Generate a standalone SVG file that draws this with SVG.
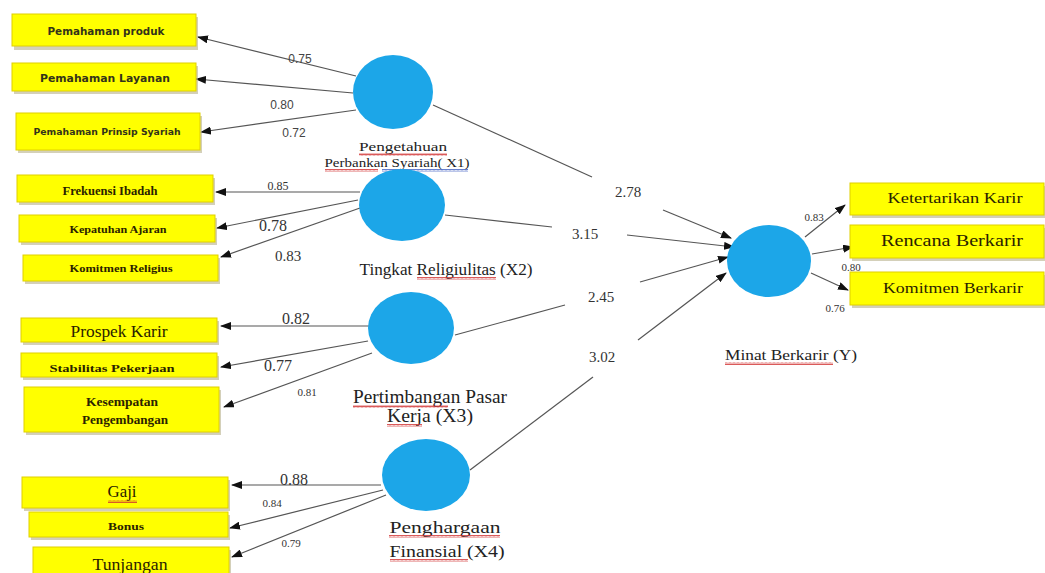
<svg xmlns="http://www.w3.org/2000/svg" width="1045" height="573" viewBox="0 0 1045 573">
<defs>
<style>
.box{fill:#ffff00;stroke:#e0d000;stroke-width:1}
.shadow{fill:#b8b08a;opacity:0.6}
.lv{fill:#1ca6e8}
.ln{stroke:#555;stroke-width:1.2;fill:none}
.arr{marker-end:url(#ah)}
.sans{font-family:"DejaVu Sans","Liberation Sans",sans-serif;fill:#33331a;text-anchor:middle;font-weight:bold}
.serif{font-family:"Liberation Serif","Times New Roman",serif;fill:#2a2200;text-anchor:middle}
.b{font-weight:bold}
.num{font-family:"Liberation Serif","Times New Roman",serif;fill:#333;text-anchor:middle}
.nums{font-family:"Liberation Sans",Arial,sans-serif;fill:#444;text-anchor:middle}
.lab{font-family:"Liberation Serif","Times New Roman",serif;fill:#222;text-anchor:middle}
.sq{fill:url(#squig)}
.sqb{fill:url(#squigb)}
</style>
<marker id="ah" markerWidth="11" markerHeight="8" refX="10" refY="4" orient="auto" markerUnits="userSpaceOnUse">
<path d="M0,0 L11,4 L0,8 z" fill="#111"/>
</marker>
<pattern id="squig" width="4" height="3" patternUnits="userSpaceOnUse">
<path d="M0,2.5 L1,0.5 L2,2.5 L3,0.5 L4,2.5" stroke="#d03030" stroke-width="0.8" fill="none"/>
</pattern>
<pattern id="squigb" width="4" height="3" patternUnits="userSpaceOnUse">
<path d="M0,2.5 L1,0.5 L2,2.5 L3,0.5 L4,2.5" stroke="#4060c0" stroke-width="0.8" fill="none"/>
</pattern>
</defs>
<rect width="1045" height="573" fill="#ffffff"/>

<g id="connectors">
<line class="ln arr" x1="356" y1="76" x2="198" y2="37"/>
<line class="ln arr" x1="353" y1="93" x2="196" y2="79"/>
<line class="ln arr" x1="356" y1="110" x2="201" y2="132"/>
<line class="ln arr" x1="360" y1="192" x2="216" y2="192"/>
<line class="ln arr" x1="358" y1="200" x2="217" y2="228"/>
<line class="ln arr" x1="360" y1="208" x2="221" y2="257"/>
<line class="ln arr" x1="369" y1="326" x2="221" y2="326"/>
<line class="ln arr" x1="368" y1="341" x2="221" y2="367"/>
<line class="ln arr" x1="372" y1="353" x2="224" y2="407"/>
<line class="ln arr" x1="381" y1="485" x2="232" y2="485"/>
<line class="ln arr" x1="383" y1="490" x2="230" y2="528"/>
<line class="ln arr" x1="386" y1="495" x2="232" y2="557"/>
<line class="ln" x1="433" y1="105" x2="592" y2="177"/>
<line class="ln arr" x1="663" y1="210" x2="731" y2="238"/>
<line class="ln" x1="445" y1="215" x2="552" y2="227"/>
<line class="ln arr" x1="627" y1="235" x2="734" y2="247"/>
<line class="ln" x1="455" y1="335" x2="565" y2="305"/>
<line class="ln arr" x1="640" y1="282" x2="728" y2="257"/>
<line class="ln" x1="470" y1="470" x2="593" y2="377"/>
<line class="ln arr" x1="638" y1="340" x2="726" y2="273"/>
<line class="ln arr" x1="805" y1="237" x2="845" y2="205"/>
<line class="ln arr" x1="812" y1="254" x2="853" y2="247"/>
<line class="ln arr" x1="811" y1="273" x2="848" y2="290"/>
<text class="nums" x="300" y="63" font-size="12">0.75</text>
<text class="nums" x="282" y="109" font-size="12">0.80</text>
<text class="nums" x="294" y="137" font-size="12">0.72</text>
<text class="num" x="278" y="190" font-size="12">0.85</text>
<text class="num" x="273" y="231" font-size="16">0.78</text>
<text class="num" x="288" y="261" font-size="15">0.83</text>
<text class="num" x="296" y="324" font-size="16">0.82</text>
<text class="num" x="278" y="371" font-size="16">0.77</text>
<text class="num" x="307" y="396" font-size="11">0.81</text>
<text class="num" x="294" y="485" font-size="16">0.88</text>
<text class="num" x="272" y="507" font-size="11">0.84</text>
<text class="num" x="291" y="547" font-size="11">0.79</text>
<text class="num" x="628" y="197" font-size="15">2.78</text>
<text class="num" x="585" y="239" font-size="15">3.15</text>
<text class="num" x="601" y="302" font-size="15">2.45</text>
<text class="num" x="602" y="362" font-size="15">3.02</text>
<text class="num" x="814" y="221" font-size="11">0.83</text>
<text class="num" x="851" y="271" font-size="11">0.80</text>
<text class="num" x="835" y="312" font-size="11">0.76</text>
</g>

<g id="X1">
<ellipse class="lv" cx="393" cy="92" rx="40" ry="37"/>
<text class="lab" x="403" y="151" font-size="12" textLength="88" lengthAdjust="spacingAndGlyphs">Pengetahuan</text>
<text class="lab" x="397" y="167" font-size="12.5" textLength="145" lengthAdjust="spacingAndGlyphs">Perbankan Syariah( X1)</text>
<rect class="sq" x="359" y="153" width="88" height="3"/>
<rect class="sq" x="325" y="169" width="53" height="3"/>
<rect class="sqb" x="382" y="169" width="86" height="3"/>
</g>
<g id="X2">
<ellipse class="lv" cx="402" cy="205" rx="43" ry="36"/>
<text class="lab" x="446" y="275" font-size="17" textLength="173" lengthAdjust="spacingAndGlyphs">Tingkat Religiulitas (X2)</text>
<rect class="sq" x="417" y="277" width="79" height="3"/>
</g>
<g id="X3">
<ellipse class="lv" cx="411" cy="328" rx="43" ry="36"/>
<text class="lab" x="430" y="403" font-size="18" textLength="154" lengthAdjust="spacingAndGlyphs">Pertimbangan Pasar</text>
<text class="lab" x="430" y="422" font-size="18" textLength="86" lengthAdjust="spacingAndGlyphs">Kerja (X3)</text>
<rect class="sq" x="353" y="405" width="95" height="3"/>
<rect class="sq" x="387" y="424" width="35" height="3"/>
</g>
<g id="X4">
<ellipse class="lv" cx="426" cy="475" rx="44" ry="36"/>
<text class="lab" x="445" y="533" font-size="17" textLength="111" lengthAdjust="spacingAndGlyphs">Penghargaan</text>
<text class="lab" x="447" y="557" font-size="17" textLength="115" lengthAdjust="spacingAndGlyphs">Finansial (X4)</text>
<rect class="sq" x="389" y="535" width="111" height="3"/>
<rect class="sq" x="390" y="559" width="78" height="3"/>
</g>
<g id="Y">
<ellipse class="lv" cx="769" cy="261" rx="42" ry="36"/>
<text class="lab" x="791" y="360" font-size="14.5" textLength="132" lengthAdjust="spacingAndGlyphs">Minat Berkarir (Y)</text>
<rect class="sq" x="725" y="362" width="108" height="3"/>
</g>

<g id="ind-produk">
<rect class="shadow" x="14" y="17" width="184" height="33"/>
<rect class="box" x="12" y="14" width="184" height="32"/>
<text class="sans" x="106" y="35" font-size="10" textLength="117" lengthAdjust="spacingAndGlyphs">Pemahaman  produk</text>
</g>
<g id="ind-layanan">
<rect class="shadow" x="14" y="66" width="184" height="28"/>
<rect class="box" x="12" y="63" width="184" height="28"/>
<text class="sans" x="105" y="82" font-size="10" textLength="130" lengthAdjust="spacingAndGlyphs">Pemahaman  Layanan</text>
</g>
<g id="ind-prinsip">
<rect class="shadow" x="18" y="116" width="184" height="37"/>
<rect class="box" x="16" y="113" width="184" height="37"/>
<text class="sans" x="107" y="135" font-size="9" textLength="147" lengthAdjust="spacingAndGlyphs">Pemahaman Prinsip Syariah</text>
</g>
<g id="ind-frekuensi">
<rect class="shadow" x="19" y="178" width="196" height="27"/>
<rect class="box" x="17" y="175" width="196" height="27"/>
<text class="serif b" x="110" y="195" font-size="12.5" textLength="95" lengthAdjust="spacingAndGlyphs">Frekuensi Ibadah</text>
</g>
<g id="ind-kepatuhan">
<rect class="shadow" x="21" y="218" width="196" height="27"/>
<rect class="box" x="19" y="215" width="196" height="27"/>
<text class="serif b" x="118" y="233" font-size="10" textLength="97" lengthAdjust="spacingAndGlyphs">Kepatuhan Ajaran</text>
</g>
<g id="ind-komitmen">
<rect class="shadow" x="25" y="258" width="195" height="26"/>
<rect class="box" x="23" y="255" width="195" height="26"/>
<text class="serif b" x="121" y="272" font-size="10" textLength="103" lengthAdjust="spacingAndGlyphs">Komitmen Religius</text>
</g>
<g id="ind-prospek">
<rect class="shadow" x="23" y="321" width="196" height="24"/>
<rect class="box" x="21" y="318" width="196" height="24"/>
<text class="serif" x="119" y="337" font-size="16" textLength="97" lengthAdjust="spacingAndGlyphs">Prospek Karir</text>
</g>
<g id="ind-stabilitas">
<rect class="shadow" x="23" y="356" width="196" height="24"/>
<rect class="box" x="21" y="353" width="196" height="24"/>
<text class="serif b" x="112" y="372" font-size="11" textLength="125" lengthAdjust="spacingAndGlyphs">Stabilitas Pekerjaan</text>
</g>
<g id="ind-kesempatan">
<rect class="shadow" x="26" y="390" width="195" height="45"/>
<rect class="box" x="24" y="387" width="195" height="45"/>
<text class="serif b" x="122" y="406" font-size="12" textLength="72" lengthAdjust="spacingAndGlyphs">Kesempatan</text>
<text class="serif b" x="125" y="424" font-size="12" textLength="86" lengthAdjust="spacingAndGlyphs">Pengembangan</text>
</g>
<g id="ind-gaji">
<rect class="shadow" x="24" y="480" width="206" height="31"/>
<rect class="box" x="22" y="477" width="206" height="31"/>
<text class="serif" x="122" y="497" font-size="17" textLength="29" lengthAdjust="spacingAndGlyphs">Gaji</text>
<rect class="sq" x="108" y="500" width="29" height="3"/>
</g>
<g id="ind-bonus">
<rect class="shadow" x="31" y="515" width="199" height="25"/>
<rect class="box" x="29" y="512" width="199" height="25"/>
<text class="serif b" x="126" y="530" font-size="10" textLength="36" lengthAdjust="spacingAndGlyphs">Bonus</text>
</g>
<g id="ind-tunjangan">
<rect class="shadow" x="35" y="550" width="196" height="30"/>
<rect class="box" x="33" y="547" width="196" height="30"/>
<text class="serif" x="130" y="570" font-size="16" textLength="75" lengthAdjust="spacingAndGlyphs">Tunjangan</text>
</g>
<g id="ind-ketertarikan">
<rect class="shadow" x="852" y="186" width="193" height="32"/>
<rect class="box" x="850" y="183" width="194" height="32"/>
<text class="serif" x="955" y="203" font-size="14" textLength="135" lengthAdjust="spacingAndGlyphs">Ketertarikan Karir</text>
</g>
<g id="ind-rencana">
<rect class="shadow" x="852" y="228" width="193" height="33"/>
<rect class="box" x="850" y="225" width="194" height="33"/>
<text class="serif" x="952" y="246" font-size="16" textLength="142" lengthAdjust="spacingAndGlyphs">Rencana Berkarir</text>
</g>
<g id="ind-komitmen-berkarir">
<rect class="shadow" x="852" y="275" width="193" height="33"/>
<rect class="box" x="850" y="272" width="194" height="33"/>
<text class="serif" x="953" y="293" font-size="14" textLength="140" lengthAdjust="spacingAndGlyphs">Komitmen Berkarir</text>
</g>
</svg>
